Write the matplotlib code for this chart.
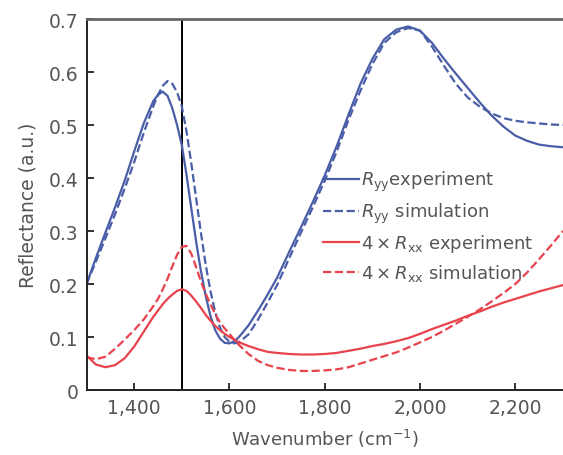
import matplotlib
matplotlib.use('Agg')
import matplotlib.pyplot as plt
from matplotlib.ticker import FuncFormatter

# ─── данные ────────────────────────────────────────────────────────
wavenumber = [1300, 1320, 1340, 1360, 1380, 1400, 1420,
              1440, 1450, 1460, 1470, 1480, 1490, 1500, 1510, 1520, 1530,
              1540, 1550, 1560, 1570, 1580, 1590, 1600, 1610, 1620,
              1640, 1660, 1680, 1700,
              1725, 1750, 1775, 1800, 1825, 1850, 1875, 1900, 1925, 1950,
              1975, 2000, 2025, 2050, 2075, 2100, 2125, 2150, 2175, 2200,
              2225, 2250, 2275, 2300]

ryy_exp = [0.200, 0.250, 0.298, 0.345, 0.395, 0.450, 0.503,
           0.545, 0.557, 0.563, 0.555, 0.532, 0.500, 0.462, 0.405, 0.342, 0.280,
           0.225, 0.178, 0.140, 0.113, 0.097, 0.089, 0.088, 0.092, 0.100,
           0.122, 0.150, 0.180, 0.212,
           0.260, 0.307, 0.355, 0.405, 0.460, 0.520, 0.578, 0.625, 0.662, 0.680,
           0.686, 0.678, 0.655, 0.625, 0.597, 0.570, 0.543, 0.518, 0.497, 0.480,
           0.470, 0.463, 0.460, 0.458]

ryy_sim = [0.200, 0.243, 0.287, 0.332, 0.380, 0.430, 0.485,
           0.535, 0.557, 0.574, 0.583, 0.578, 0.562, 0.535, 0.487, 0.427, 0.362,
           0.297, 0.237, 0.187, 0.147, 0.118, 0.100, 0.091, 0.088, 0.090,
           0.105, 0.133, 0.165, 0.198,
           0.248, 0.297, 0.345, 0.395, 0.450, 0.510, 0.565, 0.615, 0.655, 0.675,
           0.683, 0.678, 0.648, 0.612, 0.578, 0.552, 0.535, 0.522, 0.513, 0.508,
           0.505, 0.503, 0.501, 0.500]

rxx_exp = [0.065, 0.048, 0.043, 0.047, 0.060, 0.082, 0.110,
           0.138, 0.150, 0.162, 0.172, 0.180, 0.187, 0.190, 0.187, 0.178, 0.167,
           0.155, 0.142, 0.131, 0.121, 0.113, 0.106, 0.100, 0.095, 0.090,
           0.083, 0.077, 0.072, 0.070,
           0.068, 0.067, 0.067, 0.068, 0.070, 0.074, 0.078, 0.083, 0.087, 0.092,
           0.098, 0.106, 0.115, 0.123, 0.131, 0.140, 0.148, 0.157, 0.165, 0.172,
           0.179, 0.186, 0.192, 0.198]

rxx_sim = [0.062, 0.058, 0.063, 0.078, 0.095, 0.113, 0.133,
           0.158, 0.172, 0.190, 0.210, 0.233, 0.255, 0.270, 0.272, 0.257, 0.232,
           0.205, 0.182, 0.162, 0.143, 0.128, 0.116, 0.106, 0.095, 0.085,
           0.068, 0.055, 0.047, 0.042,
           0.038, 0.036, 0.036, 0.037, 0.039, 0.043, 0.050, 0.057, 0.064, 0.071,
           0.080, 0.090, 0.100, 0.112, 0.125, 0.138, 0.152, 0.167, 0.183, 0.200,
           0.222, 0.247, 0.273, 0.300]

x_ticks = [1400, 1600, 1800, 2000, 2200]
y_ticks = [0, 0.1, 0.2, 0.3, 0.4, 0.5, 0.6, 0.7]
marker_wn = 1500

labels = [r'$R_{\mathrm{yy}}$experiment',
          r'$R_{\mathrm{yy}}$ simulation',
          r'$4 \times R_{\mathrm{xx}}$ experiment',
          r'$4 \times R_{\mathrm{xx}}$ simulation']

# ─── стиль ─────────────────────────────────────────────────────────
BLUE = '#4a5ea8'
RED = '#e8434c'
TXT = '#555555'
plt.rcParams['mathtext.fontset'] = 'dejavusans'

fig = plt.figure(figsize=(5.63, 4.56), dpi=100)
ax = fig.add_axes([0.1537, 0.1425, 0.8463, 0.8136])

kw = dict(lw=1.6, solid_joinstyle='round', dash_joinstyle='round')
ax.plot(wavenumber, ryy_exp, color=BLUE, label=labels[0], **kw)
ax.plot(wavenumber, ryy_sim, color=BLUE, ls='--', label=labels[1], **kw)
ax.plot(wavenumber, rxx_exp, color=RED, label=labels[2], **kw)
ax.plot(wavenumber, rxx_sim, color=RED, ls='--', label=labels[3], **kw)
ax.axvline(marker_wn, color='black', lw=1.4, zorder=1)

ax.set_xlim(1300, 2300)
ax.set_ylim(0, 0.7)
ax.set_xticks(x_ticks)
ax.set_yticks(y_ticks)
ax.xaxis.set_major_formatter(FuncFormatter(lambda v, p: f'{int(v):,}'))
ax.yaxis.set_major_formatter(FuncFormatter(lambda v, p: '0' if v == 0 else f'{v:.1f}'))
ax.tick_params(direction='in', length=5, width=1.3, labelsize=13.5,
               labelcolor=TXT, color='#222222', pad=6)

ax.set_xlabel('Wavenumber (cm$^{-1}$)', fontsize=13, color=TXT, labelpad=7)
ax.set_ylabel('Reflectance (a.u.)', fontsize=13.5, color=TXT, labelpad=8)

for side in ('left', 'bottom'):
    ax.spines[side].set_color('#222222')
    ax.spines[side].set_linewidth(1.4)
ax.spines['top'].set_color('#666666')
ax.spines['top'].set_linewidth(2.0)
ax.spines['right'].set_visible(False)

leg = ax.legend(loc='upper left', bbox_to_anchor=(0.497, 0.596), frameon=False,
                fontsize=13, handlelength=2.0, handletextpad=0.1,
                labelspacing=0.42, borderaxespad=0, borderpad=0)
for t in leg.get_texts():
    t.set_color(TXT)

fig.savefig('out.png', dpi=100)
